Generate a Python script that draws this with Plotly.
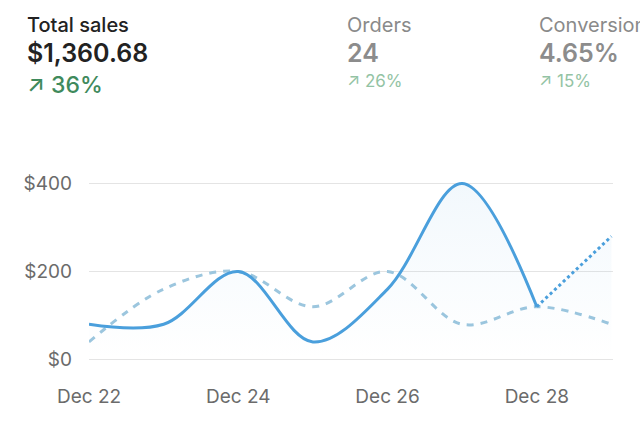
import plotly.graph_objects as go

# ---- data ----
dates = ["2023-12-22", "2023-12-23", "2023-12-24", "2023-12-25",
         "2023-12-26", "2023-12-27", "2023-12-28", "2023-12-29"]
current_sales = [80, 80, 200, 40, 160, 400, 120]          # Dec 22 - Dec 28
projected_dates = ["2023-12-28", "2023-12-29"]
projected_sales = [120, 280]
previous_sales = [40, 160, 200, 120, 200, 80, 120, 80]     # Dec 22 - Dec 29
y_tick_vals = [0, 200, 400]
y_tick_text = ["$0", "$200", "$400"]
x_tick_vals = ["2023-12-22", "2023-12-24", "2023-12-26", "2023-12-28"]
x_tick_text = ["Dec 22", "Dec 24", "Dec 26", "Dec 28"]

metrics = [
    ("Total sales", "$1,360.68", "↗ 36%"),
    ("Orders", "24", "↗ 26%"),
    ("Conversion", "4.65%", "↗ 15%"),
]

# ---- layout geometry (pixels) ----
W, H = 640, 430
L, R, T, B = 89, 27, 180, 67
PW, PH = W - L - R, H - T - B

def px(x):
    return (x - L) / PW

def py(y):
    return (T + PH - y) / PH

BLUE = "#4A9FDC"
DASH = "#9CC6DE"
FONT = "Inter"
SMOOTH = 1.0

grad = dict(type="vertical", start=0, stop=400,
            colorscale=[[0, "rgba(74,159,220,0.0)"], [1, "rgba(74,159,220,0.07)"]])

fig = go.Figure()
fig.add_trace(go.Scatter(
    x=dates, y=previous_sales, mode="lines",
    line=dict(color=DASH, width=3, dash="7px,7px", shape="spline", smoothing=SMOOTH),
    hoverinfo="skip", showlegend=False))
fig.add_trace(go.Scatter(
    x=dates[:7], y=current_sales, mode="lines",
    line=dict(color=BLUE, width=3, shape="spline", smoothing=SMOOTH),
    fill="tozeroy", fillgradient=grad,
    hoverinfo="skip", showlegend=False))
fig.add_trace(go.Scatter(
    x=projected_dates, y=projected_sales, mode="lines",
    line=dict(color=BLUE, width=3, dash="dot", shape="spline"),
    fill="tozeroy", fillgradient=grad,
    hoverinfo="skip", showlegend=False))

annotations = []
cols = [25, 345, 537]
for i, (title, value, delta) in enumerate(metrics):
    main = i == 0
    annotations.append(dict(
        x=px(cols[i]), y=py(24.5), xref="paper", yref="paper",
        xanchor="left", yanchor="middle", showarrow=False, text=title,
        font=dict(family=FONT, size=20, color="#222222" if main else "#8a8a8a",
                  weight=500 if main else 400)))
    annotations.append(dict(
        x=px(cols[i]), y=py(53), xref="paper", yref="paper",
        xanchor="left", yanchor="middle", showarrow=False, text=value,
        font=dict(family=FONT, size=25, color="#222222" if main else "#8c8c8c",
                  weight=600)))
    annotations.append(dict(
        x=px(cols[i]), y=py(85 if main else 81), xref="paper", yref="paper",
        xanchor="left", yanchor="middle", showarrow=False, text=delta,
        font=dict(family=FONT, size=23 if main else 17,
                  color="#3F8A5C" if main else "#93C3A4",
                  weight=500 if main else 400)))

fig.update_layout(
    width=W, height=H,
    margin=dict(l=L, r=R, t=T, b=B),
    paper_bgcolor="white", plot_bgcolor="white",
    annotations=annotations,
    xaxis=dict(
        type="date", range=["2023-12-22", "2023-12-29 00:30"],
        tickvals=x_tick_vals, ticktext=x_tick_text,
        showgrid=False, zeroline=False, showline=False,
        ticks="", ticklabelstandoff=20,
        tickfont=dict(family=FONT, size=19, color="#6b6b6b")),
    yaxis=dict(
        range=[-8, 408], tickvals=y_tick_vals, ticktext=y_tick_text,
        showgrid=True, gridcolor="#e4e4e4", gridwidth=1.3,
        zeroline=False, showline=False, ticks="", ticklabelstandoff=16,
        tickfont=dict(family=FONT, size=19, color="#6b6b6b")),
)

fig.write_html("out.html")
